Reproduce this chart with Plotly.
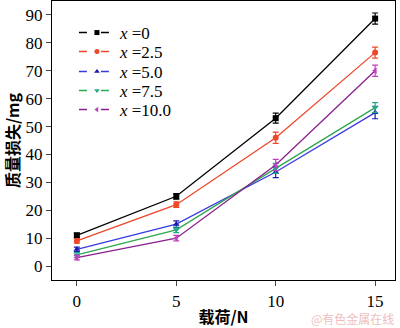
import plotly.graph_objects as go

loads = [0, 5, 10, 15]
series_names = ["<i>x</i> =0", "<i>x</i> =2.5", "<i>x</i> =5.0", "<i>x</i> =7.5", "<i>x</i> =10.0"]
mass_x0 = [11.0, 25.0, 53.0, 88.7]
mass_x25 = [9.0, 22.0, 46.0, 76.5]
mass_x50 = [6.0, 15.0, 33.7, 55.0]
mass_x75 = [4.0, 13.0, 35.0, 56.8]
mass_x100 = [3.0, 10.0, 36.2, 70.0]
err_x0 = [0.8, 1.0, 1.8, 2.0]
err_x25 = [0.8, 1.0, 2.0, 2.0]
err_x50 = [0.8, 1.2, 2.0, 2.2]
err_x75 = [0.8, 1.0, 1.8, 1.8]
err_x100 = [0.8, 1.0, 2.0, 2.0]

values = [mass_x0, mass_x25, mass_x50, mass_x75, mass_x100]
errors = [err_x0, err_x25, err_x50, err_x75, err_x100]
line_colors = ["#000000", "#F0462A", "#3A3AE0", "#2EA84E", "#8A1F8E"]
marker_colors = ["#000000", "#F0462A", "#1A1AB0", "#22A88A", "#C040C0"]
symbols = ["square", "circle", "triangle-up", "triangle-down", "triangle-left"]
legend_ids = ["legend", "legend2", "legend3", "legend4", "legend5"]

fig = go.Figure()
for name, v, e, lc, mc, s in zip(series_names, values, errors, line_colors, marker_colors, symbols):
    fig.add_trace(go.Scatter(
        x=loads, y=v, name=name, mode="lines+markers", showlegend=False,
        line=dict(color=lc, width=1.3),
        marker=dict(symbol=s, size=6, color=mc),
        error_y=dict(type="data", array=e, visible=True, color=mc, thickness=1.2, width=3),
    ))
# legend entries (line-gap-marker-gap-line look), one small legend each for tight spacing
for name, lc, mc, s, lid in zip(series_names, line_colors, marker_colors, symbols, legend_ids):
    fig.add_trace(go.Scatter(
        x=[None], y=[None], name=name, mode="lines+markers", legend=lid,
        line=dict(color=lc, width=1.5, dash="8px,14px,8px"),
        marker=dict(symbol=s, size=5, color=mc),
    ))

font_main = "Liberation Serif, Times New Roman, serif"
cjk = "Noto Sans CJK SC, serif"
legend_px = [33, 52, 72, 91, 110]
legend_layout = {}
for lid, p in zip(legend_ids, legend_px):
    legend_layout[lid] = dict(x=0.064, y=(280 - p) / 279, xanchor="left", yanchor="middle",
                              bgcolor="rgba(0,0,0,0)", font=dict(size=17, family=font_main),
                              itemwidth=36, borderwidth=0)

fig.update_layout(
    width=400, height=328,
    margin=dict(l=52, r=5, t=1, b=48),
    paper_bgcolor="white", plot_bgcolor="white",
    font=dict(family=font_main, size=17, color="black"),
    showlegend=True,
    xaxis=dict(range=[-1.25, 16], tickvals=[0, 5, 10, 15], ticks="outside", ticklen=5,
               showgrid=False, zeroline=False, showline=True, linecolor="black",
               linewidth=1.2, mirror=True, tickfont=dict(size=17),
               title=dict(text="<b>载荷/N</b>", font=dict(size=16, family=cjk), standoff=2)),
    yaxis=dict(range=[-5, 95], tickvals=[0, 10, 20, 30, 40, 50, 60, 70, 80, 90], ticks="outside",
               ticklen=5, showgrid=False, zeroline=False, showline=True, linecolor="black",
               linewidth=1.2, mirror=True, tickfont=dict(size=17),
               title=dict(text="<b>质量损失/mg</b>", font=dict(size=16, family=cjk), standoff=2)),
    **legend_layout,
)
fig.add_annotation(text="@有色金属在线", xref="paper", yref="paper", x=1.0, y=-0.172,
                   xanchor="right", yanchor="bottom", showarrow=False, borderpad=0,
                   font=dict(size=12, color="rgba(235,175,175,0.85)", family="Noto Sans CJK SC, sans-serif"))

fig.write_html("out.html")
